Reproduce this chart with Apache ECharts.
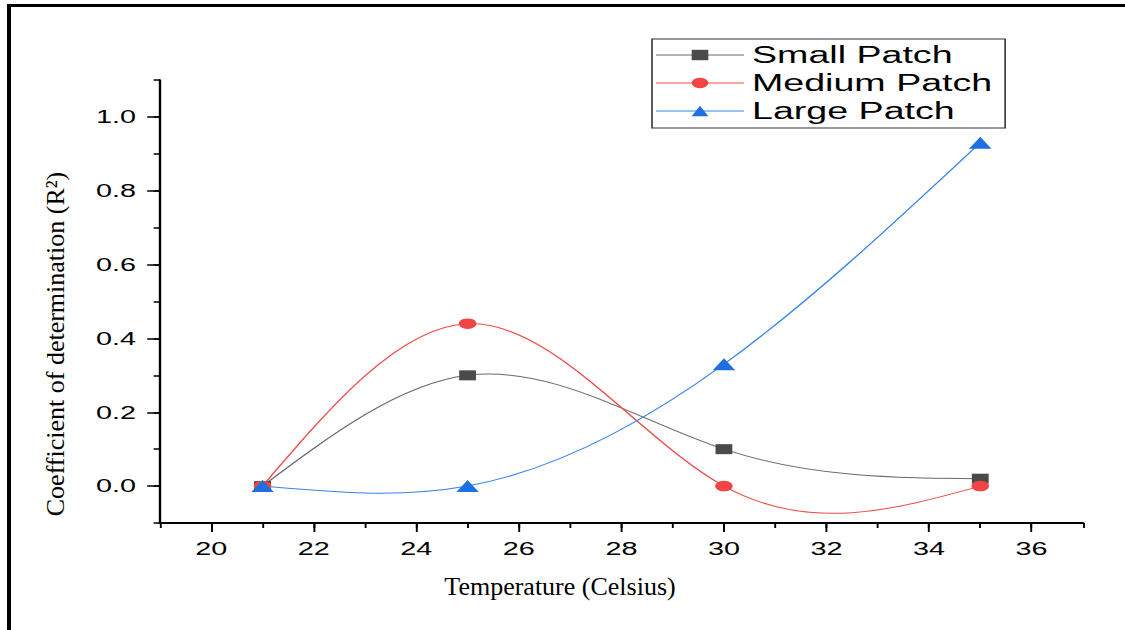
<!DOCTYPE html>
<html>
<head>
<meta charset="utf-8">
<script src="https://cdn.jsdelivr.net/npm/echarts@6/dist/echarts.min.js"></script>
<style>
  html, body { margin: 0; padding: 0; background: #fff; width: 1125px; height: 630px; overflow: hidden; }
  #frame { position: absolute; left: 7px; top: 4px; width: 1400px; height: 900px;
           border-left: 4px solid #000; border-top: 3px solid #000; }
  #chart { position: absolute; left: 0; top: 0; height: 630px; transform-origin: 0 0; }
</style>
</head>
<body>
<div id="frame"></div>
<div id="chart"></div>
<script>
// ---- data ----
const temperatures = [21, 25, 30, 35];
const smallPatch  = [0.00, 0.30, 0.10, 0.02];
const mediumPatch = [0.00, 0.44, 0.00, 0.00];
const largePatch  = [0.00, 0.00, 0.33, 0.93];
const seriesNames = ['Small Patch', 'Medium Patch', 'Large Patch'];
const xTickLabels = [20, 22, 24, 26, 28, 30, 32, 34, 36];
const yTickLabels = ['0.0', '0.2', '0.4', '0.6', '0.8', '1.0'];
const xTitle = 'Temperature (Celsius)';
const yTitle = 'Coefficient of determination (R\u00B2)';

// ---- layout (the picture is horizontally stretched) ----
const SX = 1.6;
const W = 1125 / SX;
const el = document.getElementById('chart');
el.style.width = W + 'px';
el.style.transform = 'scaleX(' + SX + ')';

const gLeft = 160 / SX, gRight = W - 1083 / SX, gTop = 80, gBottom = 107;
const xMin = 19, xMax = 37, yMin = -0.1, yMax = 1.1;
const pxPerX = (W - gLeft - gRight) / (xMax - xMin);
const pxPerY = (630 - gTop - gBottom) / (yMax - yMin);

const pair = (xs, ys) => xs.map((x, i) => [x, ys[i]]);
const fontSans = 'Liberation Sans, Arial, sans-serif';
const fontSerif = 'Liberation Serif, Times New Roman, serif';

// natural cubic spline second derivatives (the connecting curve style of the source plot)
function splineM(xs, ys) {
  const n = xs.length, M = new Array(n).fill(0);
  if (n < 3) return M;
  const a = [], b = [], c = [], r = [];
  for (let i = 1; i < n - 1; i++) {
    const h0 = xs[i] - xs[i - 1], h1 = xs[i + 1] - xs[i];
    a.push(h0); b.push(2 * (h0 + h1)); c.push(h1);
    r.push(6 * ((ys[i + 1] - ys[i]) / h1 - (ys[i] - ys[i - 1]) / h0));
  }
  const m = b.length;
  for (let i = 1; i < m; i++) {
    const w = a[i] / b[i - 1];
    b[i] -= w * c[i - 1]; r[i] -= w * r[i - 1];
  }
  const sol = new Array(m);
  sol[m - 1] = r[m - 1] / b[m - 1];
  for (let i = m - 2; i >= 0; i--) sol[i] = (r[i] - c[i] * sol[i + 1]) / b[i];
  for (let i = 0; i < m; i++) M[i + 1] = sol[i];
  return M;
}

function curveSeries(name, xs, ys, color) {
  const M = splineM(xs, ys);
  return {
    name: name + ' (curve)', type: 'custom', xAxisIndex: 0, yAxisIndex: 0, z: 1, silent: true,
    data: pair(xs, ys),
    renderItem: (params, api) => {
      const i = params.dataIndex;
      if (i >= xs.length - 1) return null;
      const x0 = api.value(0), y0 = api.value(1);
      const x1 = xs[i + 1], y1 = ys[i + 1];
      const h = x1 - x0, d = (y1 - y0) / h;
      const s0 = d - h * (2 * M[i] + M[i + 1]) / 6;
      const s1 = d + h * (M[i] + 2 * M[i + 1]) / 6;
      const p0 = api.coord([x0, y0]);
      const p1 = api.coord([x0 + h / 3, y0 + s0 * h / 3]);
      const p2 = api.coord([x1 - h / 3, y1 - s1 * h / 3]);
      const p3 = api.coord([x1, y1]);
      return {
        type: 'bezierCurve',
        shape: { x1: p0[0], y1: p0[1], cpx1: p1[0], cpy1: p1[1], cpx2: p2[0], cpy2: p2[1], x2: p3[0], y2: p3[1] },
        style: { stroke: color, fill: 'none', lineWidth: 1 }
      };
    }
  };
}

const lineColors = ['#6b6b6b', '#f04a4a', '#3584ec'];
const markColors = ['#4a4a4a', '#f24444', '#1e6fdf'];

const chart = echarts.init(el, null, { renderer: 'svg' });
chart.setOption({
  animation: false,
  backgroundColor: 'transparent',
  grid: [
    { left: gLeft, right: gRight, top: gTop, bottom: gBottom },
    { left: gLeft, right: gRight, top: gTop + (yMax - 1.0) * pxPerY, bottom: gBottom + (0 - yMin) * pxPerY },
    { left: gLeft + (xTickLabels[0] - xMin) * pxPerX, right: gRight + (xMax - xTickLabels[xTickLabels.length - 1]) * pxPerX, top: gTop, bottom: gBottom }
  ],
  xAxis: [
    { gridIndex: 0, type: 'value', min: xMin, max: xMax, interval: 1,
      axisLine: { onZero: false, lineStyle: { color: '#000', width: 2 } },
      axisTick: { length: 5, lineStyle: { color: '#000', width: 1.2 } },
      axisLabel: { show: false }, splitLine: { show: false } },
    { gridIndex: 1, type: 'value', min: xMin, max: xMax, show: false, axisLine: { onZero: false } },
    { gridIndex: 2, type: 'value', min: xTickLabels[0], max: xTickLabels[xTickLabels.length - 1], interval: 2,
      axisLine: { show: false, onZero: false },
      axisTick: { length: 9, lineStyle: { color: '#000', width: 1.2 } },
      axisLabel: { color: '#000', fontFamily: fontSans, fontSize: 18, margin: 17,
                   formatter: v => String(v) },
      splitLine: { show: false } }
  ],
  yAxis: [
    { gridIndex: 0, type: 'value', min: yMin, max: yMax, interval: 0.1,
      axisLine: { onZero: false, lineStyle: { color: '#000', width: 1.5 } },
      axisTick: { length: 4, lineStyle: { color: '#000', width: 1.5 } },
      axisLabel: { show: false }, splitLine: { show: false } },
    { gridIndex: 1, type: 'value', min: 0, max: 1.0, interval: 0.2,
      axisLine: { show: false, onZero: false },
      axisTick: { length: 8, lineStyle: { color: '#000', width: 1.5 } },
      axisLabel: { color: '#000', fontFamily: fontSans, fontSize: 18, margin: 15,
                   formatter: v => yTickLabels[Math.round(v / 0.2)] },
      splitLine: { show: false } },
    { gridIndex: 2, type: 'value', min: yMin, max: yMax, show: false, axisLine: { onZero: false } }
  ],
  legend: {
    orient: 'vertical', left: 652 / SX, top: 39, align: 'left',
    padding: [2, 8, 3, 2], itemGap: 0, itemWidth: 55, itemHeight: 13,
    borderColor: '#333', borderWidth: 1,
    lineStyle: { opacity: 1, width: 1 },
    textStyle: { color: '#000', fontFamily: fontSans, fontSize: 23.5, lineHeight: 28 },
    data: seriesNames
  },
  series: [
    curveSeries(seriesNames[0], temperatures, smallPatch, lineColors[0]),
    curveSeries(seriesNames[1], temperatures, mediumPatch, lineColors[1]),
    curveSeries(seriesNames[2], temperatures, largePatch, lineColors[2]),
    { name: seriesNames[0], type: 'line', xAxisIndex: 0, yAxisIndex: 0, z: 3,
      data: pair(temperatures, smallPatch),
      symbol: 'rect', symbolSize: [10.5, 10],
      lineStyle: { color: lineColors[0], width: 1, opacity: 0 }, itemStyle: { color: markColors[0] } },
    { name: seriesNames[1], type: 'line', xAxisIndex: 0, yAxisIndex: 0, z: 3,
      data: pair(temperatures, mediumPatch),
      symbol: 'circle', symbolSize: [11, 10.5],
      lineStyle: { color: lineColors[1], width: 1, opacity: 0 }, itemStyle: { color: markColors[1] } },
    { name: seriesNames[2], type: 'line', xAxisIndex: 0, yAxisIndex: 0, z: 3,
      data: pair(temperatures, largePatch),
      symbol: 'triangle', symbolSize: [14, 12],
      lineStyle: { color: lineColors[2], width: 1, opacity: 0 }, itemStyle: { color: markColors[2] } }
  ],
  graphic: [
    { type: 'text', x: 560 / SX, y: 586, scaleX: 1 / SX, silent: true,
      style: { text: xTitle, font: '26px ' + fontSerif, fill: '#000',
               textAlign: 'center', textVerticalAlign: 'middle', align: 'center', verticalAlign: 'middle' } },
    { type: 'text', x: 55 / SX, y: 344, rotation: Math.PI / 2, scaleY: 1 / SX, silent: true,
      style: { text: yTitle, font: '26px ' + fontSerif, fill: '#000',
               textAlign: 'center', textVerticalAlign: 'middle', align: 'center', verticalAlign: 'middle' } }
  ]
});
</script>
</body>
</html>
